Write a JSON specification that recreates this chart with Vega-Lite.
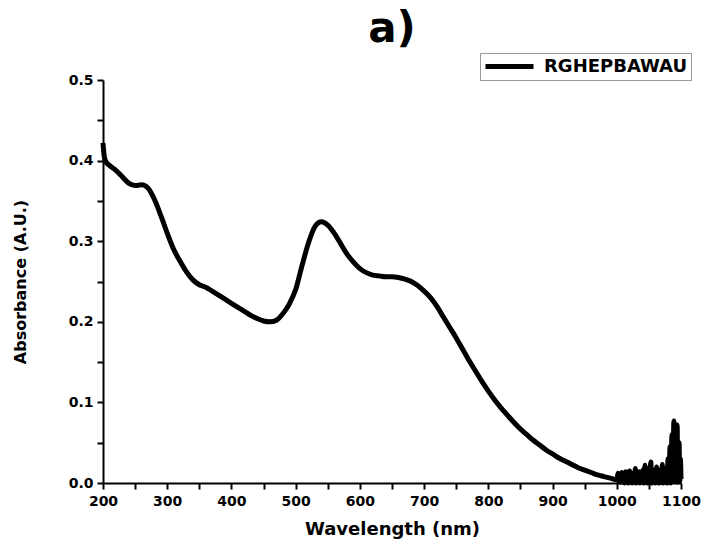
{
  "$schema": "https://vega.github.io/schema/vega-lite/v6.json",
  "autosize": "none",
  "width": 578,
  "height": 403,
  "padding": {"left": 103, "top": 80, "right": 21, "bottom": 67},
  "background": "white",
  "title": {
    "text": "a)",
    "anchor": "middle",
    "frame": "group",
    "font": "DejaVu Sans",
    "fontSize": 42,
    "fontWeight": "bold",
    "color": "black",
    "baseline": "alphabetic",
    "offset": -31
  },
  "config": {
    "view": {"stroke": null},
    "axis": {
      "domainColor": "black",
      "domainWidth": 2,
      "tickColor": "black",
      "tickWidth": 2,
      "tickSize": 6,
      "grid": false,
      "labelFont": "DejaVu Sans",
      "labelFontWeight": "bold",
      "labelFontSize": 14,
      "labelColor": "black",
      "labelFlush": false,
      "titleFont": "DejaVu Sans",
      "titleFontWeight": "bold",
      "titleColor": "black"
    }
  },
  "data": {
    "values": [
      {"w": 200, "a": 0.422}, {"w": 202, "a": 0.405}, {"w": 205, "a": 0.398}, {"w": 210, "a": 0.394},
      {"w": 220, "a": 0.388}, {"w": 230, "a": 0.38}, {"w": 240, "a": 0.372}, {"w": 250, "a": 0.369},
      {"w": 260, "a": 0.37}, {"w": 270, "a": 0.366}, {"w": 280, "a": 0.352}, {"w": 290, "a": 0.332},
      {"w": 300, "a": 0.31}, {"w": 310, "a": 0.29}, {"w": 320, "a": 0.275}, {"w": 330, "a": 0.262},
      {"w": 340, "a": 0.252}, {"w": 350, "a": 0.246}, {"w": 360, "a": 0.243}, {"w": 370, "a": 0.238},
      {"w": 380, "a": 0.233}, {"w": 390, "a": 0.228}, {"w": 400, "a": 0.223}, {"w": 410, "a": 0.218},
      {"w": 420, "a": 0.213}, {"w": 430, "a": 0.208}, {"w": 440, "a": 0.204}, {"w": 450, "a": 0.201},
      {"w": 460, "a": 0.2}, {"w": 470, "a": 0.202}, {"w": 480, "a": 0.21}, {"w": 490, "a": 0.222},
      {"w": 500, "a": 0.24}, {"w": 510, "a": 0.27}, {"w": 520, "a": 0.298}, {"w": 530, "a": 0.318},
      {"w": 540, "a": 0.324}, {"w": 550, "a": 0.32}, {"w": 560, "a": 0.31}, {"w": 570, "a": 0.297},
      {"w": 580, "a": 0.284}, {"w": 590, "a": 0.274}, {"w": 600, "a": 0.266}, {"w": 610, "a": 0.261},
      {"w": 620, "a": 0.258}, {"w": 630, "a": 0.257}, {"w": 640, "a": 0.256}, {"w": 650, "a": 0.256},
      {"w": 660, "a": 0.255}, {"w": 670, "a": 0.253}, {"w": 680, "a": 0.25}, {"w": 690, "a": 0.245},
      {"w": 700, "a": 0.238}, {"w": 710, "a": 0.23}, {"w": 720, "a": 0.219}, {"w": 730, "a": 0.206},
      {"w": 740, "a": 0.193}, {"w": 750, "a": 0.18}, {"w": 760, "a": 0.166}, {"w": 770, "a": 0.152},
      {"w": 780, "a": 0.139}, {"w": 790, "a": 0.126}, {"w": 800, "a": 0.114}, {"w": 810, "a": 0.103},
      {"w": 820, "a": 0.093}, {"w": 830, "a": 0.084}, {"w": 840, "a": 0.075}, {"w": 850, "a": 0.067},
      {"w": 860, "a": 0.06}, {"w": 870, "a": 0.053}, {"w": 880, "a": 0.047}, {"w": 890, "a": 0.041},
      {"w": 900, "a": 0.036}, {"w": 910, "a": 0.031}, {"w": 920, "a": 0.027}, {"w": 930, "a": 0.023},
      {"w": 940, "a": 0.019}, {"w": 950, "a": 0.016}, {"w": 960, "a": 0.013}, {"w": 970, "a": 0.01},
      {"w": 980, "a": 0.008}, {"w": 990, "a": 0.006}, {"w": 1000, "a": 0.004},
      {"w": 1002, "a": 0.012}, {"w": 1003, "a": 0.002}, {"w": 1005, "a": 0.01}, {"w": 1006, "a": 0.001},
      {"w": 1008, "a": 0.013}, {"w": 1009, "a": 0.002}, {"w": 1011, "a": 0.009}, {"w": 1012, "a": 0.0},
      {"w": 1014, "a": 0.014}, {"w": 1015, "a": 0.002}, {"w": 1017, "a": 0.008}, {"w": 1018, "a": 0.0},
      {"w": 1020, "a": 0.015}, {"w": 1021, "a": 0.001}, {"w": 1023, "a": 0.01}, {"w": 1024, "a": 0.0},
      {"w": 1026, "a": 0.012}, {"w": 1027, "a": 0.001}, {"w": 1029, "a": 0.018}, {"w": 1030, "a": 0.0},
      {"w": 1032, "a": 0.011}, {"w": 1033, "a": 0.001}, {"w": 1035, "a": 0.014}, {"w": 1036, "a": 0.0},
      {"w": 1038, "a": 0.012}, {"w": 1039, "a": 0.001}, {"w": 1041, "a": 0.016}, {"w": 1042, "a": 0.0},
      {"w": 1044, "a": 0.022}, {"w": 1045, "a": 0.001}, {"w": 1047, "a": 0.012}, {"w": 1048, "a": 0.0},
      {"w": 1050, "a": 0.018}, {"w": 1051, "a": 0.001}, {"w": 1053, "a": 0.026}, {"w": 1054, "a": 0.0},
      {"w": 1056, "a": 0.013}, {"w": 1057, "a": 0.001}, {"w": 1059, "a": 0.016}, {"w": 1060, "a": 0.0},
      {"w": 1062, "a": 0.02}, {"w": 1063, "a": 0.001}, {"w": 1065, "a": 0.012}, {"w": 1066, "a": 0.0},
      {"w": 1068, "a": 0.016}, {"w": 1069, "a": 0.001}, {"w": 1071, "a": 0.023}, {"w": 1072, "a": 0.0},
      {"w": 1074, "a": 0.014}, {"w": 1075, "a": 0.001}, {"w": 1077, "a": 0.018}, {"w": 1078, "a": 0.0},
      {"w": 1080, "a": 0.03}, {"w": 1081, "a": 0.001}, {"w": 1083, "a": 0.045}, {"w": 1084, "a": 0.0},
      {"w": 1086, "a": 0.06}, {"w": 1087, "a": 0.002}, {"w": 1089, "a": 0.077}, {"w": 1090, "a": 0.003},
      {"w": 1091, "a": 0.04}, {"w": 1092, "a": 0.002}, {"w": 1094, "a": 0.072}, {"w": 1095, "a": 0.001},
      {"w": 1097, "a": 0.05}, {"w": 1098, "a": 0.002}, {"w": 1099, "a": 0.03}, {"w": 1100, "a": 0.005}
    ]
  },
  "mark": {"type": "line", "strokeWidth": 5, "interpolate": "monotone", "strokeJoin": "round", "clip": false},
  "encoding": {
    "x": {
      "field": "w",
      "type": "quantitative",
      "scale": {"domain": [200, 1100], "nice": false, "zero": false},
      "axis": {
        "title": "Wavelength (nm)",
        "titleFontSize": 18,
        "titlePadding": 12,
        "format": "d",
        "values": [200, 250, 300, 350, 400, 450, 500, 550, 600, 650, 700, 750, 800, 850, 900, 950, 1000, 1050, 1100],
        "labelExpr": "datum.value % 100 == 0 ? datum.label : ''",
        "labelPadding": 5
      }
    },
    "y": {
      "field": "a",
      "type": "quantitative",
      "scale": {"domain": [0, 0.5], "nice": false},
      "axis": {
        "title": "Absorbance (A.U.)",
        "titleFontSize": 16,
        "titlePadding": 40,
        "values": [0, 0.05, 0.1, 0.15, 0.2, 0.25, 0.3, 0.35, 0.4, 0.45, 0.5],
        "labelExpr": "round(datum.value * 100) % 10 == 0 ? format(datum.value, '.1f') : ''",
        "labelPadding": 4
      }
    },
    "color": {
      "datum": "RGHEPBAWAU",
      "type": "nominal",
      "scale": {"domain": ["RGHEPBAWAU"], "range": ["black"]},
      "legend": {
        "title": null,
        "orient": "none",
        "legendX": 377,
        "legendY": -27,
        "symbolType": "M-1,0H5",
        "symbolSize": 256,
        "symbolStrokeWidth": 5,
        "symbolStrokeColor": "black",
        "labelOffset": 40,
        "labelFont": "DejaVu Sans",
        "labelFontWeight": "bold",
        "labelFontSize": 18,
        "labelColor": "black",
        "strokeColor": "#999999",
        "fillColor": "white",
        "padding": 3
      }
    }
  }
}
